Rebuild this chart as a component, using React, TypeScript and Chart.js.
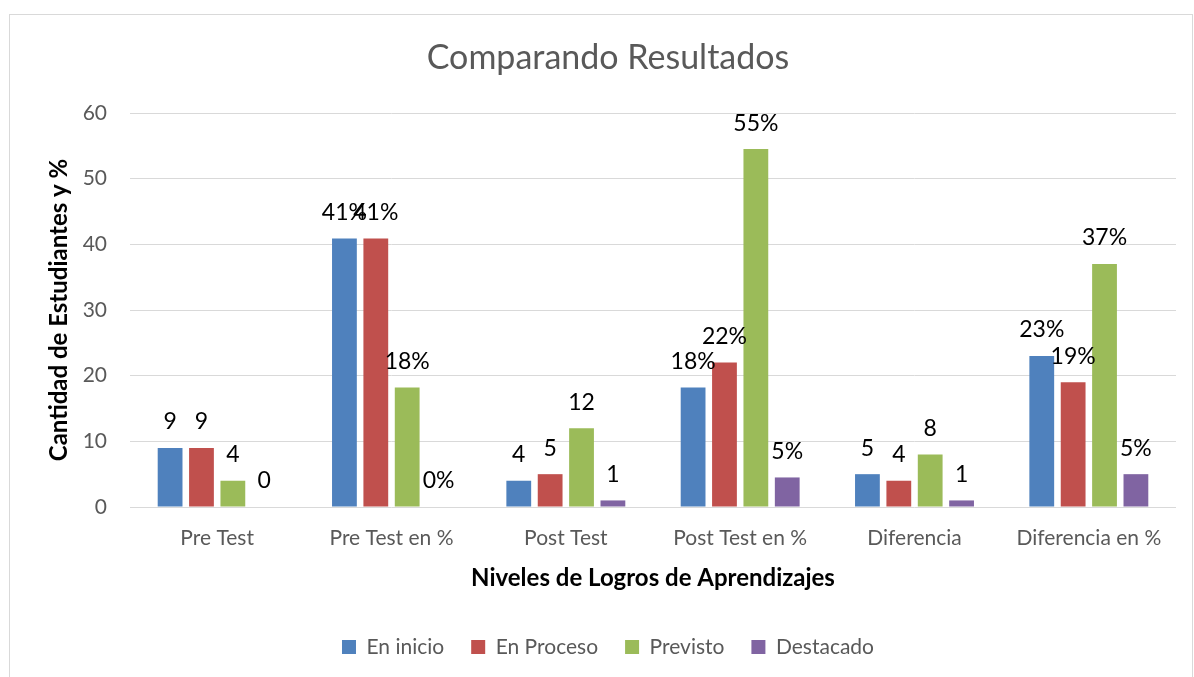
import React, { useEffect, useRef } from "react";
import { Chart, registerables } from "chart.js";

Chart.register(...registerables);

const categories = [
  "Pre Test",
  "Pre Test en %",
  "Post Test",
  "Post Test en %",
  "Diferencia",
  "Diferencia en %",
];
const seriesNames = ["En inicio", "En Proceso", "Previsto", "Destacado"];
const enInicio = [9, 40.9, 4, 18.2, 5, 23];
const enProceso = [9, 40.9, 5, 22, 4, 19];
const previsto = [4, 18.2, 12, 54.5, 8, 37];
const destacado = [0, 0, 1, 4.5, 1, 5];
const seriesColors = ["#4F81BD", "#C0504D", "#9BBB59", "#8064A2"];
const yMin = 0;
const yMax = 60;
const yStep = 10;

const FONT = "Lato, 'Open Sans', 'Noto Sans', sans-serif";

const borderPlugin = {
  id: "outerBorder",
  beforeDraw(chart: any) {
    const ctx = chart.ctx;
    ctx.save();
    ctx.fillStyle = "#ffffff";
    ctx.fillRect(0, 0, chart.width, chart.height);
    ctx.strokeStyle = "#d9d9d9";
    ctx.lineWidth = 1;
    ctx.strokeRect(9.5, 14.5, 1183, 700);
    ctx.restore();
  },
};

const dataLabelPlugin = {
  id: "barValueLabels",
  afterDatasetsDraw(chart: any) {
    const ctx = chart.ctx;
    ctx.save();
    ctx.font = `23px ${FONT}`;
    ctx.fillStyle = "#000000";
    ctx.textAlign = "center";
    ctx.textBaseline = "middle";
    chart.data.datasets.forEach((ds: any, di: number) => {
      const meta = chart.getDatasetMeta(di);
      meta.data.forEach((el: any, i: number) => {
        const v = ds.data[i];
        const isPct = String(chart.data.labels[i]).includes("%");
        const text = isPct ? `${Math.round(v)}%` : `${v}`;
        ctx.fillText(text, el.x, el.y - 26);
      });
    });
    ctx.restore();
  },
};

export default function App() {
  const canvasRef = useRef<HTMLCanvasElement | null>(null);

  useEffect(() => {
    if (!canvasRef.current) return;
    const values = [enInicio, enProceso, previsto, destacado];
    const chart = new Chart(canvasRef.current, {
      type: "bar",
      data: {
        labels: categories,
        datasets: seriesNames.map((name, i) => ({
          label: name,
          data: values[i],
          backgroundColor: seriesColors[i],
          borderWidth: 0,
          categoryPercentage: 0.72,
          barPercentage: 0.79,
        })),
      },
      options: {
        animation: false,
        responsive: false,
        maintainAspectRatio: false,
        layout: { padding: { left: 40, right: 18, top: 14, bottom: 9.5 } },
        plugins: {
          title: {
            display: true,
            text: "Comparando Resultados",
            color: "#595959",
            font: { family: FONT, size: 34, weight: "normal" },
            padding: { top: 23.6, bottom: 34.6 },
          },
          legend: {
            display: true,
            position: "bottom",
            labels: {
              color: "#595959",
              font: { family: FONT, size: 21 },
              boxWidth: 14,
              boxHeight: 14,
              padding: 27,
            },
          },
          tooltip: { enabled: false },
        },
        scales: {
          x: {
            afterFit: (scale: any) => {
              scale.height = 102.5;
            },
            grid: { display: false, drawTicks: false },
            border: { display: false },
            ticks: {
              color: "#595959",
              font: { family: FONT, size: 21 },
              padding: 18.5,
            },
            title: {
              display: true,
              text: "Niveles de Logros de Aprendizajes",
              color: "#000000",
              font: { family: FONT, size: 24, weight: "bold" },
              padding: { top: 0, bottom: 17 },
            },
          },
          y: {
            min: yMin,
            max: yMax,
            afterFit: (scale: any) => {
              scale.width = 90;
            },
            grid: { color: "#d9d9d9", lineWidth: 1, drawTicks: false },
            border: { display: false },
            ticks: {
              stepSize: yStep,
              color: "#595959",
              font: { family: FONT, size: 21 },
              padding: 23,
            },
            title: {
              display: true,
              text: "Cantidad de Estudiantes y %",
              color: "#000000",
              font: { family: FONT, size: 24, weight: "bold" },
              padding: { top: 4.6, bottom: 0 },
            },
          },
        },
      },
      plugins: [borderPlugin, dataLabelPlugin],
    });
    return () => chart.destroy();
  }, []);

  return (
    <div style={{ position: "absolute", left: 0, top: 0, width: 1194, height: 677 }}>
      <canvas ref={canvasRef} width={1194} height={677} style={{ width: 1194, height: 677 }} />
    </div>
  );
}
